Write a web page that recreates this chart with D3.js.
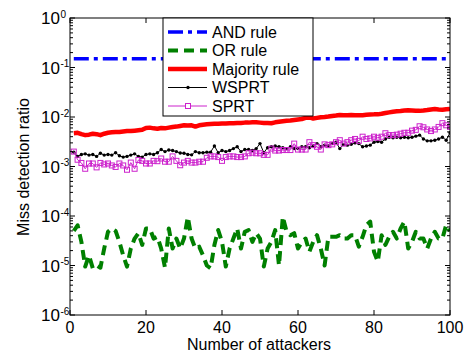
<!DOCTYPE html>
<html>
<head>
<meta charset="utf-8">
<script src="https://cdn.jsdelivr.net/npm/d3@7"></script>
<style>
  body { margin: 0; background: #fff; }
  text { font-family: Arial, "Liberation Sans", sans-serif; fill: #000; }
</style>
</head>
<body>
<svg id="chart" width="464" height="358"></svg>
<script>
// number of attackers on x
const attackers = d3.range(1, 101);

// miss detection ratios
const andRule = attackers.map(() => 0.15);

// OR rule, units of 1e-5
const orRule = [
  5.0, 6.5, 3.0, 0.95, 1.6, 0.88, 1.0, 0.9, 2.2, 4.8,
  5.6, 5.0, 3.0, 1.6, 0.95, 2.2, 3.5, 4.5, 2.6, 5.6,
  5.6, 3.5, 3.8, 2.2, 0.9, 5.6, 2.2, 3.5, 2.2, 3.5,
  9.5, 3.5, 2.2, 2.4, 1.6, 1.0, 0.88, 2.6, 5.2, 3.0,
  0.95, 2.2, 3.5, 5.6, 2.2, 4.8, 5.2, 3.0, 4.5, 3.5,
  0.95, 2.2, 3.0, 5.2, 1.0, 9.7, 4.8, 4.1, 4.5, 2.2,
  3.0, 3.5, 1.9, 3.0, 4.1, 2.2, 1.0, 3.8, 3.8, 3.8,
  4.1, 3.5, 3.5, 4.1, 4.1, 2.4, 3.8, 6.6, 7.7, 1.9,
  1.2, 4.1, 2.6, 3.8, 4.8, 3.5, 5.6, 7.7, 2.2, 3.0,
  4.8, 3.5, 3.5, 2.2, 3.5, 4.8, 3.5, 3.5, 6.6, 5.0
].map(v => v * 1e-5);

// Majority rule, units of 1e-3
const majorityRule = [
  4.7, 4.8, 4.5, 4.3, 4.4, 4.6, 4.5, 4.3, 4.6, 4.8,
  4.9, 5.0, 5.0, 5.1, 5.2, 5.2, 5.3, 5.4, 5.5, 6.0,
  6.1, 5.9, 5.8, 6.0, 5.9, 6.1, 6.3, 6.4, 6.6, 6.8,
  6.7, 6.8, 6.4, 6.8, 7.0, 7.1, 7.2, 7.3, 7.3, 7.4,
  7.4, 7.5, 7.5, 7.6, 7.6, 7.7, 7.7, 7.8, 7.8, 7.7,
  7.6, 7.6, 7.5, 7.8, 8.0, 8.2, 8.4, 8.5, 8.7, 8.9,
  9.1, 9.6, 9.8, 9.3, 9.6, 9.9, 10.0, 10.2, 10.5, 10.7,
  11.0, 10.9, 10.9, 11.0, 10.9, 10.8, 10.9, 11.1, 11.2, 11.3,
  11.3, 11.6, 12.0, 12.4, 12.8, 13.0, 13.2, 13.5, 13.7, 13.6,
  13.4, 13.3, 13.5, 13.8, 14.2, 14.5, 14.2, 14.0, 14.3, 14.5
].map(v => v * 1e-3);

// WSPRT, units of 1e-3
const wsprt = [
  1.95, 1.6, 1.75, 1.8, 1.7, 1.75, 1.6, 1.85, 1.7, 1.75,
  1.7, 1.9, 1.65, 1.55, 1.6, 1.7, 1.8, 1.6, 1.55, 1.75,
  1.8, 1.75, 1.9, 2.2, 2.0, 2.15, 2.1, 2.0, 1.87, 1.85,
  1.75, 1.72, 2.0, 1.9, 1.9, 1.95, 1.95, 2.6, 1.9, 2.1,
  2.0, 2.1, 2.3, 2.5, 2.0, 2.2, 2.2, 2.1, 2.3, 2.9,
  1.9, 2.4, 2.5, 2.6, 2.5, 2.4, 2.3, 2.5, 2.3, 2.3,
  2.5, 2.5, 2.4, 2.6, 2.9, 2.5, 2.7, 2.6, 2.9, 3.1,
  2.3, 2.8, 2.7, 2.8, 3.0, 2.9, 2.5, 2.6, 2.7, 3.1,
  3.2, 3.1, 3.6, 3.9, 3.8, 3.9, 3.8, 3.9, 3.8, 3.9,
  4.1, 4.3, 3.6, 3.3, 3.3, 3.4, 3.6, 3.9, 3.4, 4.8
].map(v => v * 1e-3);

// SPRT, units of 1e-3
const sprt = [
  2.0, 1.37, 1.18, 0.9, 1.15, 1.15, 0.96, 1.18, 1.1, 1.15,
  1.05, 0.98, 1.15, 1.05, 0.86, 1.2, 0.9, 1.35, 1.3, 1.15,
  1.15, 1.3, 1.28, 1.45, 1.25, 1.25, 1.6, 1.3, 1.06, 1.2,
  1.3, 1.2, 1.2, 1.25, 1.25, 1.5, 1.6, 1.6, 1.55, 1.3,
  1.55, 1.6, 1.6, 1.55, 1.55, 1.6, 1.85, 1.9, 1.85, 1.85,
  1.72, 1.72, 2.3, 2.1, 2.1, 2.15, 2.15, 2.15, 2.9, 2.2,
  2.2, 2.2, 3.1, 2.7, 2.5, 2.2, 2.8, 2.7, 2.8, 3.1,
  3.4, 2.9, 3.1, 3.4, 3.6, 3.3, 4.0, 3.6, 3.7, 4.0,
  3.8, 4.0, 4.7, 4.3, 4.3, 4.4, 4.6, 4.8, 4.8, 5.3,
  5.5, 6.5, 6.2, 5.6, 5.2, 5.6, 6.3, 7.5, 6.8, 6.3
].map(v => v * 1e-3);

const xTicks = [0, 20, 40, 60, 80, 100];
const yExponents = [0, -1, -2, -3, -4, -5, -6];

const legendNames = ['AND rule', 'OR rule', 'Majority rule', 'WSPRT', 'SPRT'];

const series = [
  { name: legendNames[0], values: andRule, color: '#0000ff', width: 3.5, dash: '15,5,4,5' },
  { name: legendNames[1], values: orRule, color: '#008000', width: 4, dash: '10,6' },
  { name: legendNames[2], values: majorityRule, color: '#ff0000', width: 4.5, dash: null },
  { name: legendNames[3], values: wsprt, color: '#000000', width: 1, dash: null, marker: 'dot' },
  { name: legendNames[4], values: sprt, color: '#cc22cc', width: 1, dash: null, marker: 'square' }
];

const plotLeft = 70, plotRight = 450, plotTop = 18, plotBottom = 315;

const svg = d3.select('#chart');

const x = d3.scaleLinear().domain([0, 100]).range([plotLeft, plotRight]);
const y = d3.scaleLog().domain([1e-6, 1]).range([plotBottom, plotTop]);

svg.append('defs').append('clipPath').attr('id', 'plot')
  .append('rect').attr('x', plotLeft).attr('y', plotTop)
  .attr('width', plotRight - plotLeft).attr('height', plotBottom - plotTop);

// data lines
const plot = svg.append('g').attr('clip-path', 'url(#plot)');
const line = d3.line().x((d, i) => x(attackers[i])).y(d => y(d));

series.forEach(s => {
  plot.append('path')
    .attr('d', line(s.values))
    .attr('fill', 'none')
    .attr('stroke', s.color)
    .attr('stroke-width', s.width)
    .attr('stroke-dasharray', s.dash)
    .attr('stroke-linejoin', 'round');
  if (s.marker === 'dot') {
    plot.selectAll(null).data(s.values).join('circle')
      .attr('cx', (d, i) => x(attackers[i])).attr('cy', d => y(d))
      .attr('r', 1.7).attr('fill', s.color);
  }
  if (s.marker === 'square') {
    plot.selectAll(null).data(s.values).join('rect')
      .attr('x', (d, i) => x(attackers[i]) - 2.5).attr('y', d => y(d) - 2.5)
      .attr('width', 5).attr('height', 5)
      .attr('fill', 'none').attr('stroke', s.color).attr('stroke-width', 1);
  }
});

// axes, MATLAB style: ticks inside on all four sides
const axes = svg.append('g');
const tickLen = 5, minorLen = 3;

xTicks.forEach(t => {
  axes.append('line').attr('x1', x(t)).attr('x2', x(t))
    .attr('y1', plotBottom).attr('y2', plotBottom - tickLen).attr('stroke', '#000');
  axes.append('line').attr('x1', x(t)).attr('x2', x(t))
    .attr('y1', plotTop).attr('y2', plotTop + tickLen).attr('stroke', '#000');
  axes.append('text').attr('x', x(t)).attr('y', plotBottom + 18)
    .attr('text-anchor', 'middle').attr('font-size', 16).text(t);
});

yExponents.forEach(e => {
  const v = Math.pow(10, e);
  axes.append('line').attr('x1', plotLeft).attr('x2', plotLeft + tickLen)
    .attr('y1', y(v)).attr('y2', y(v)).attr('stroke', '#000');
  axes.append('line').attr('x1', plotRight).attr('x2', plotRight - tickLen)
    .attr('y1', y(v)).attr('y2', y(v)).attr('stroke', '#000');
  if (e > -6) {
    for (let k = 2; k <= 9; k++) {
      const m = k * Math.pow(10, e - 1);
      axes.append('line').attr('x1', plotLeft).attr('x2', plotLeft + minorLen)
        .attr('y1', y(m)).attr('y2', y(m)).attr('stroke', '#000');
      axes.append('line').attr('x1', plotRight).attr('x2', plotRight - minorLen)
        .attr('y1', y(m)).attr('y2', y(m)).attr('stroke', '#000');
    }
  }
  axes.append('text').attr('x', 60).attr('y', y(v) + 6)
    .attr('text-anchor', 'end').attr('font-size', 17).text('10');
  axes.append('text').attr('x', 60.5).attr('y', y(v) - 0.5)
    .attr('font-size', 10).text(e);
});

axes.append('rect').attr('x', plotLeft).attr('y', plotTop)
  .attr('width', plotRight - plotLeft).attr('height', plotBottom - plotTop)
  .attr('fill', 'none').attr('stroke', '#000');

// axis titles
svg.append('text').attr('x', 259).attr('y', 350)
  .attr('text-anchor', 'middle').attr('font-size', 16).text('Number of attackers');
svg.append('text')
  .attr('transform', `translate(29,167) rotate(-90)`)
  .attr('text-anchor', 'middle').attr('font-size', 16).text('Miss detection ratio');

// legend
const lg = svg.append('g').attr('transform', 'translate(163,18)');
lg.append('rect').attr('width', 150).attr('height', 98)
  .attr('fill', '#fff').attr('stroke', '#000');
series.forEach((s, i) => {
  const ly = 14 + i * 18.5;
  lg.append('line').attr('x1', 5).attr('x2', 44).attr('y1', ly).attr('y2', ly)
    .attr('stroke', s.color).attr('stroke-width', s.width)
    .attr('stroke-dasharray', s.dash);
  if (s.marker === 'dot') {
    lg.append('circle').attr('cx', 25).attr('cy', ly).attr('r', 1.7).attr('fill', s.color);
  }
  if (s.marker === 'square') {
    lg.append('rect').attr('x', 22.5).attr('y', ly - 2.5).attr('width', 5).attr('height', 5)
      .attr('fill', '#fff').attr('stroke', s.color);
  }
  lg.append('text').attr('x', 49).attr('y', ly + 5.5).attr('font-size', 16).text(s.name);
});
</script>
</body>
</html>
